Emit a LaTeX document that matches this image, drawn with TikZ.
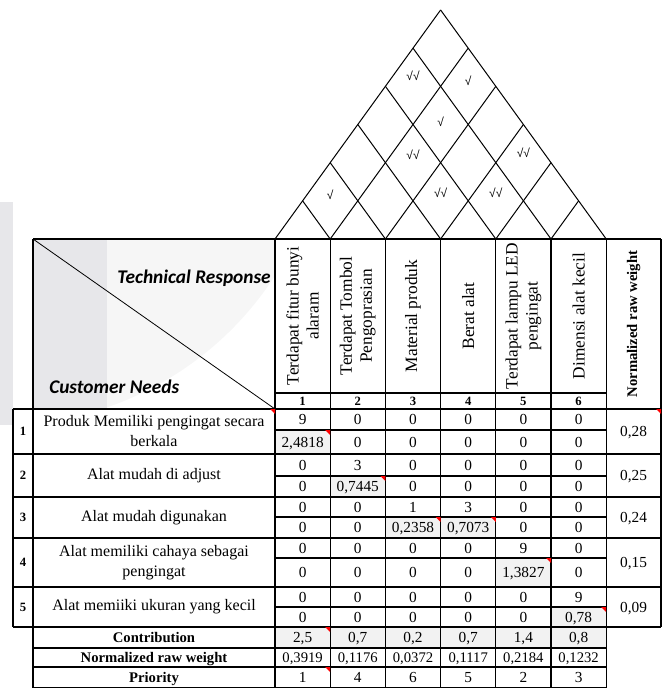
\documentclass[tikz,border=0pt]{standalone}
\usepackage{fontspec}
\setmainfont{Liberation Serif}
\newfontfamily\hdfont{Carlito}
\newfontfamily\ckfont{Liberation Sans}
\usetikzlibrary{calc}
\definecolor{cellgray}{HTML}{F2F2F2}
\definecolor{wmdark}{HTML}{E7E7EA}
\definecolor{wmlight}{HTML}{F6F6F6}
\tikzset{%
  cellline/.style={draw=black,line width=0.8pt},
  roof/.style={draw=black,line width=0.75pt},
  val/.style={inner sep=0,text height=8pt,text depth=0pt,font=\fontsize{11.5}{13}\selectfont},
  lbl/.style={inner sep=0,align=center,font=\fontsize{12}{15}\selectfont},
  boldtxt/.style={inner sep=0,text height=7.5pt,text depth=0pt,font=\fontsize{11}{13}\selectfont\bfseries},
  numtxt/.style={inner sep=0,text height=6pt,text depth=0pt,font=\fontsize{9.5}{11}\selectfont\bfseries},
  tech/.style={rotate=90,inner sep=0,align=center,font=\fontsize{13}{15}\selectfont},
  chk/.style={inner sep=0,font=\fontsize{9}{10}\selectfont\ckfont},
  hdtxt/.style={inner sep=0,font=\fontsize{14.5}{16}\selectfont\hdfont\bfseries\itshape},
  grayfill/.style={fill=cellgray},
  redflag/.style={fill=red}
}

\begin{document}
\begin{tikzpicture}[x=0.75pt,y=-0.75pt]
  \useasboundingbox (0,0) rectangle (664,688);
  \fill[wmdark] (0,202) rectangle (13,425);
  \begin{scope}
    \clip (33,239) rectangle (275,409);
    \fill[wmlight] (1,99) circle (326);
    \fill[wmdark] (33,239) rectangle (107,409);
  \end{scope}
  \foreach \x/\y/\h in {275/430/24, 330.2/476/21, 385.4/517/21, 440.6/517/21, 495.8/558/29, 551/607/20}
    \fill[grayfill] (\x,\y) rectangle ++(55.2,\h);
  \fill[grayfill] (275,627) rectangle (606.2,648);

  \foreach \k in {0,...,6} {
    \draw[roof] ({275+55.2*\k},239) -- ++({27.6*(6-\k)},{-38.17*(6-\k)});
    \draw[roof] ({275+55.2*\k},239) -- ++({-27.6*\k},{-38.17*\k});
  }
  \foreach \i/\j/\dy/\s in {1/2/-6/√, 3/4/-8/√√, 4/5/-8/√√, 2/4/-8/√√, 4/6/-10/√√, 2/5/-3/√, 1/5/-11/√√, 2/6/-6/√}
    \node[chk] (ck\i\j) at ({275+27.6*(\i+\j-1)},{239-38.17*(\j-\i)+\dy}) {\s};

  \draw[cellline] (13,409) -- (13,627);
  \draw[cellline] (33,239) -- (33,688);
  \foreach \k in {0,...,6}
    \draw[cellline] ({275+55.2*\k},239) -- ({275+55.2*\k},688);
  \draw[cellline] (661,239) -- (661,627);
  \draw[cellline] (33,239) -- (661,239);
  \draw[cellline] (275,393) -- (606.2,393);
  \foreach \y in {409,454,497,538,587,627}
    \draw[cellline] (13,\y) -- (661,\y);
  \foreach \y in {430,476,517,558,607}
    \draw[cellline] (275,\y) -- (606.2,\y);
  \foreach \y in {648,667,688}
    \draw[cellline] (33,\y) -- (606.2,\y);
  \draw[line width=0.6pt] (33,239) -- (275,409);

  \node[hdtxt,anchor=base east] (techresp) at (271,283) {Technical Response};
  \node[hdtxt,anchor=base west] (custneeds) at (49,393) {Customer Needs};

  \foreach \txt [count=\c] in {Terdapat fitur bunyi\\alaram, Terdapat Tombol\\Pengoprasian, Material produk, Berat alat, Terdapat lampu LED\\pengingat, Dimensi alat kecil} {
    \node[tech] (tr\c) at ({247.4+55.2*\c},316) {\txt};
    \node[numtxt] (no\c) at ({247.4+55.2*\c},401) {\c};
  }
  \node[tech,font=\fontsize{11}{13}\selectfont\bfseries] (nrwhead) at (633.6,324) {Normalized raw weight};

  \foreach \txt/\y/\w [count=\r] in {Produk Memiliki pengingat secara\\berkala/431.5/{0,28}, Alat mudah di adjust/475.5/{0,25}, Alat mudah digunakan/517.5/{0,24}, Alat memiliki cahaya sebagai\\pengingat/562.5/{0,15}, Alat memiiki ukuran yang kecil/607/{0,09}} {
    \node[numtxt] (rn\r) at (23,\y) {\r};
    \node[lbl] (cn\r) at (154,\y) {\txt};
    \node[val] (nw\r) at (633.6,\y) {\w};
  }

  \foreach \v [count=\c] in {9,0,0,0,0,0} \node[val] (ra1\c) at ({247.4+55.2*\c},419.5) {\v};
  \foreach \v [count=\c] in {{2,4818},0,0,0,0,0} \node[val] (rb1\c) at ({247.4+55.2*\c},442) {\v};
  \foreach \v [count=\c] in {0,3,0,0,0,0} \node[val] (ra2\c) at ({247.4+55.2*\c},465) {\v};
  \foreach \v [count=\c] in {0,{0,7445},0,0,0,0} \node[val] (rb2\c) at ({247.4+55.2*\c},486.5) {\v};
  \foreach \v [count=\c] in {0,0,1,3,0,0} \node[val] (ra3\c) at ({247.4+55.2*\c},507) {\v};
  \foreach \v [count=\c] in {0,0,{0,2358},{0,7073},0,0} \node[val] (rb3\c) at ({247.4+55.2*\c},527.5) {\v};
  \foreach \v [count=\c] in {0,0,0,0,9,0} \node[val] (ra4\c) at ({247.4+55.2*\c},548) {\v};
  \foreach \v [count=\c] in {0,0,0,0,{1,3827},0} \node[val] (rb4\c) at ({247.4+55.2*\c},572.5) {\v};
  \foreach \v [count=\c] in {0,0,0,0,0,9} \node[val] (ra5\c) at ({247.4+55.2*\c},597) {\v};
  \foreach \v [count=\c] in {0,0,0,0,0,{0,78}} \node[val] (rb5\c) at ({247.4+55.2*\c},617) {\v};

  \node[boldtxt] (contr) at (154,637.5) {Contribution};
  \node[boldtxt] (nrwrow) at (154,657.5) {Normalized raw weight};
  \node[boldtxt] (prio) at (154,677.5) {Priority};
  \foreach \v [count=\c] in {{2,5},{0,7},{0,2},{0,7},{1,4},{0,8}} \node[val] (co\c) at ({247.4+55.2*\c},637.5) {\v};
  \foreach \v [count=\c] in {{0,3919},{0,1176},{0,0372},{0,1117},{0,2184},{0,1232}} \node[val,font=\fontsize{11}{13}\selectfont] (nr\c) at ({247.4+55.2*\c},657.5) {\v};
  \foreach \v [count=\c] in {1,4,6,5,2,3} \node[val] (pr\c) at ({247.4+55.2*\c},677.5) {\v};

  \foreach \x/\y in {275/409, 330.2/430, 661/409, 385.4/476, 440.6/517, 495.8/517, 551/558, 606.2/607, 330.2/627, 330.2/667}
    \fill[redflag] (\x,\y) -- ++(-5,0) -- ++(5,5) -- cycle;
\end{tikzpicture}
\end{document}
